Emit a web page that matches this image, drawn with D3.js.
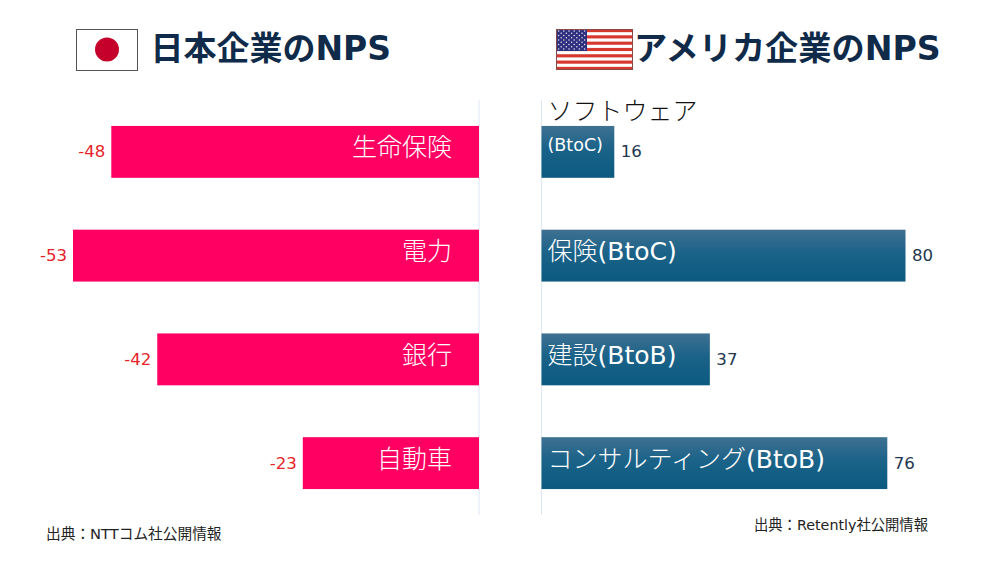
<!DOCTYPE html>
<html lang="ja"><head><meta charset="utf-8">
<script src="https://cdn.jsdelivr.net/npm/d3@7"></script>
<style>
html,body{margin:0;padding:0;background:#fff}
svg{display:block}
text{font-family:"DejaVu Sans","Noto Sans CJK JP",sans-serif}
</style></head><body>
<svg id="c" width="1000" height="563"></svg>
<script>
const jpCategories = ["生命保険","電力","銀行","自動車"];
const jpValues = [-48,-53,-42,-23];
const usCategories = ["ソフトウェア(BtoC)","保険(BtoC)","建設(BtoB)","コンサルティング(BtoB)"];
const usValues = [16,80,37,76];
const titles = ["日本企業のNPS","アメリカ企業のNPS"];
const sources = ["出典：NTTコム社公開情報","出典：Retently社公開情報"];

const svg = d3.select("#c");
const defs = svg.append("defs");
const grad = defs.append("linearGradient").attr("id","blue").attr("x1",0).attr("y1",0).attr("x2",0).attr("y2",1);
grad.append("stop").attr("offset","0").attr("stop-color","#3f7191");
grad.append("stop").attr("offset","0.45").attr("stop-color","#1a6288");
grad.append("stop").attr("offset","1").attr("stop-color","#0c5a80");

const idx = [0,1,2,3];
const y = d3.scaleBand().domain(idx).range([100,515]).paddingInner(0.5).paddingOuter(0.25);
const xL = d3.scaleLinear().domain([-53,0]).range([73,479]);
const xR = d3.scaleLinear().domain([0,80]).range([541.5,905.5]);

// axis lines
[xL(0),xR(0)].forEach(x=>svg.append("line").attr("x1",x).attr("x2",x).attr("y1",100).attr("y2",515)
  .attr("stroke","#dce8f4").attr("stroke-width",1));

// Left bars
svg.append("g").selectAll("rect").data(idx).join("rect")
  .attr("x",i=>xL(jpValues[i])).attr("y",i=>y(i))
  .attr("width",i=>xL(0)-xL(jpValues[i])).attr("height",y.bandwidth())
  .attr("fill","#ff0062");
svg.append("g").selectAll("text").data(idx).join("text")
  .attr("x",i=>xL(jpValues[i])-6).attr("y",i=>y(i)+y.bandwidth()/2+5.5)
  .attr("text-anchor","end").attr("font-size",16.6).attr("fill","#e5252a")
  .text(i=>jpValues[i]);
svg.append("g").selectAll("text").data(idx).join("text")
  .attr("x",xL(0)-27).attr("y",i=>y(i)+y.bandwidth()/2+4.5)
  .attr("text-anchor","end").attr("font-size",25).attr("font-weight",300)
  .style("font-family",'"Noto Sans CJK JP",sans-serif').attr("fill","#fff")
  .text(i=>jpCategories[i]);

// Right bars
svg.append("g").selectAll("rect").data(idx).join("rect")
  .attr("x",xR(0)).attr("y",i=>y(i))
  .attr("width",i=>xR(usValues[i])-xR(0)).attr("height",y.bandwidth())
  .attr("fill","url(#blue)");
svg.append("g").selectAll("text").data(idx).join("text")
  .attr("x",i=>xR(usValues[i])+6.5).attr("y",i=>y(i)+y.bandwidth()/2+5.5)
  .attr("font-size",16.6).attr("fill","#22384f")
  .text(i=>usValues[i]);
const lx = xR(0)+6;
const kana = s=>s.split("(")[0];
const latin = s=>"("+s.split("(")[1];
const lab = svg.append("g").selectAll("text").data(idx.slice(1)).join("text")
  .attr("x",lx).attr("y",i=>y(i)+y.bandwidth()/2+4.5)
  .attr("font-size",25).attr("fill","#fff");
lab.append("tspan").attr("font-weight",300).style("font-family",'"Noto Sans CJK JP",sans-serif').text(i=>kana(usCategories[i]));
lab.append("tspan").text(i=>latin(usCategories[i]));
// first label wraps: top line falls above the bar
svg.append("text").attr("x",lx).attr("y",y(0)-6).attr("font-size",25).attr("font-weight",300)
  .style("font-family",'"Noto Sans CJK JP",sans-serif').attr("fill","#111").text(kana(usCategories[0]));
svg.append("text").attr("x",lx).attr("y",y(0)+25).attr("font-size",17.5).attr("fill","#fff").text(latin(usCategories[0]));

// Titles
svg.append("text").attr("x",150.5).attr("y",60).attr("font-size",33).attr("font-weight",700).attr("fill","#0f2b49").text(titles[0]);
svg.append("text").attr("x",634).attr("y",60).attr("font-size",33.2).attr("font-weight",700).attr("fill","#0f2b49").text(titles[1]);

// Sources
svg.append("text").attr("x",46).attr("y",539).attr("font-size",14.7).attr("fill","#222").text(sources[0]);
svg.append("text").attr("x",754).attr("y",530).attr("font-size",14.3).attr("fill","#222").text(sources[1]);

// Japan flag
const jf = svg.append("g");
jf.append("rect").attr("x",76.5).attr("y",29.5).attr("width",61).attr("height",41).attr("fill","#fff").attr("stroke","#555");
jf.append("circle").attr("cx",107).attr("cy",49.5).attr("r",12).attr("fill","#c4002b");

// US flag
const uf = svg.append("g");
const fx=556, fy=29, fw=77, fh=41;
uf.append("rect").attr("x",fx).attr("y",fy).attr("width",fw).attr("height",fh).attr("fill","#fff");
d3.range(13).filter(i=>i%2===0).forEach(i=>uf.append("rect").attr("x",fx).attr("y",fy+i*fh/13).attr("width",fw).attr("height",fh/13).attr("fill","#d6372f"));
uf.append("rect").attr("x",fx).attr("y",fy).attr("width",31).attr("height",22).attr("fill","#2e2f7f");
d3.range(9).forEach(r=>{
  const n = r%2===0?6:5;
  d3.range(n).forEach(c=>uf.append("circle")
    .attr("cx",fx+2.6+(r%2?2.6:0)+c*5.2).attr("cy",fy+2+r*2.25).attr("r",0.75).attr("fill","#e8e8f5"));
});
uf.append("rect").attr("x",fx+.5).attr("y",fy+.5).attr("width",fw-1).attr("height",fh-1).attr("fill","none").attr("stroke","#8a4a45");
</script></body></html>
